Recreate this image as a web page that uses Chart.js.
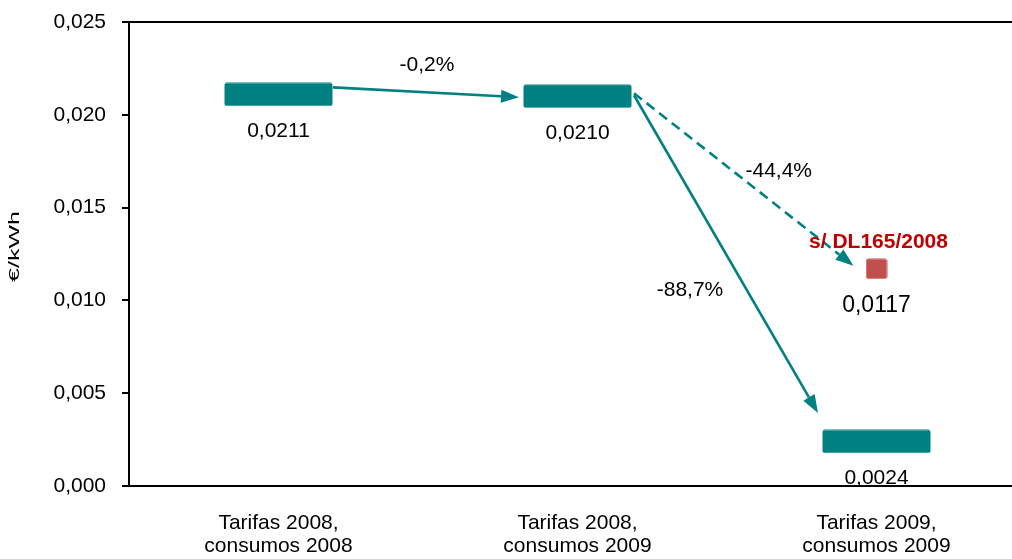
<!DOCTYPE html>
<html>
<head>
<meta charset="utf-8">
<script src="https://cdn.jsdelivr.net/npm/chart.js@4.4.1/dist/chart.umd.min.js"></script>
<style>
  html, body { margin: 0; padding: 0; overflow: hidden; background: #ffffff; }
  #wrap { position: relative; width: 1039px; height: 559px; }
  #chart { display: block; }
</style>
</head>
<body>
<div id="wrap"><canvas id="chart" width="1039" height="559"></canvas></div>
<script>
// ---- data ----
const categories = [
  ['Tarifas 2008,', 'consumos 2008'],
  ['Tarifas 2008,', 'consumos 2009'],
  ['Tarifas 2009,', 'consumos 2009']
];
const tariffValues = [0.0211, 0.0210, 0.0024];
const withoutDL165Values = [null, null, 0.0117];
const withoutDL165Label = 's/ DL165/2008';
const changeLabels = ['-0,2%', '-44,4%', '-88,7%'];
const yTicks = [0.000, 0.005, 0.010, 0.015, 0.020, 0.025];
const yTitle = '€/kWh';

// ---- styles ----
const FONT = "'Liberation Sans', Arial, Helvetica, sans-serif";
const TEAL = '#008080';
const RED_MARK = '#C0504D';
const RED_TEXT = '#C00000';

function makeMarker(w, h, color, r) {
  const c = document.createElement('canvas');
  c.width = w; c.height = h;
  const g = c.getContext('2d');
  g.fillStyle = color;
  g.beginPath();
  g.roundRect(0.5, 0.5, w - 1, h - 1, r);
  g.fill();
  return c;
}
const tariffMarker = makeMarker(109, 24, TEAL, 2);
const altMarker = makeMarker(22, 21, RED_MARK, 2);

const fmt = (v, d) => v.toFixed(d).replace('.', ',');

// connectors between markers: [datasetIndex, dataIndex], pixel offsets from marker centres
const connectors = [
  { from: [0, 0], to: [0, 1], start: [54.5, -7], end: [-58.5, 1], dash: [], text: 0, textOffset: [1, -27] },
  { from: [0, 1], to: [1, 2], start: [56.5, -3], end: [-23, -3], dash: [10, 6], text: 1, textOffset: [35, -8] },
  { from: [0, 1], to: [0, 2], start: [56.5, -1], end: [-58.5, -28.5], dash: [], text: 2, textOffset: [-36, 36] }
];

const annotations = {
  id: 'annotations',
  afterDatasetsDraw(chart) {
    const ctx = chart.ctx;
    const pt = (ref) => chart.getDatasetMeta(ref[0]).data[ref[1]];
    ctx.save();

    // arrows
    connectors.forEach(c => {
      const a = pt(c.from), b = pt(c.to);
      const x1 = a.x + c.start[0], y1 = a.y + c.start[1];
      const x2 = b.x + c.end[0], y2 = b.y + c.end[1];
      const ang = Math.atan2(y2 - y1, x2 - x1);
      const headLen = 18, headHalf = 6.5;
      const bx = x2 - headLen * Math.cos(ang), by = y2 - headLen * Math.sin(ang);
      ctx.strokeStyle = TEAL;
      ctx.fillStyle = TEAL;
      ctx.lineWidth = 2.6;
      ctx.setLineDash(c.dash);
      ctx.beginPath();
      ctx.moveTo(x1, y1);
      ctx.lineTo(bx, by);
      ctx.stroke();
      ctx.setLineDash([]);
      ctx.beginPath();
      ctx.moveTo(x2, y2);
      ctx.lineTo(bx + headHalf * Math.sin(ang), by - headHalf * Math.cos(ang));
      ctx.lineTo(bx - headHalf * Math.sin(ang), by + headHalf * Math.cos(ang));
      ctx.closePath();
      ctx.fill();

      ctx.fillStyle = '#000';
      ctx.font = '21px ' + FONT;
      ctx.textAlign = 'center';
      ctx.textBaseline = 'middle';
      ctx.fillText(changeLabels[c.text], (x1 + x2) / 2 + c.textOffset[0], (y1 + y2) / 2 + c.textOffset[1]);
    });

    // value labels under each marker
    ctx.textAlign = 'center';
    ctx.textBaseline = 'middle';
    ctx.fillStyle = '#000';
    chart.data.datasets.forEach((ds, di) => {
      const meta = chart.getDatasetMeta(di);
      ds.data.forEach((v, i) => {
        if (v === null) return;
        const p = meta.data[i];
        ctx.font = (di === 1 ? '23px ' : '21px ') + FONT;
        ctx.fillText(fmt(v, 4), p.x, p.y + 37);
      });
    });

    // series caption above the red marker
    const alt = chart.getDatasetMeta(1).data[2];
    ctx.fillStyle = RED_TEXT;
    ctx.font = 'bold 21px ' + FONT;
    ctx.fillText(withoutDL165Label, alt.x + 2, alt.y - 27);

    // y axis title (narrow lettering)
    ctx.fillStyle = '#000';
    ctx.translate(14.5, 246.5);
    ctx.rotate(-Math.PI / 2);
    ctx.scale(1, 0.6);
    ctx.font = '25px ' + FONT;
    ctx.fillText(yTitle, 0, 0);
    ctx.restore();
  }
};

new Chart(document.getElementById('chart'), {
  type: 'line',
  data: {
    labels: categories,
    datasets: [
      { label: 'Tarifas', data: tariffValues, showLine: false, pointStyle: tariffMarker, pointRadius: 12, pointHoverRadius: 12 },
      { label: withoutDL165Label, data: withoutDL165Values, showLine: false, pointStyle: altMarker, pointRadius: 11, pointHoverRadius: 11 }
    ]
  },
  options: {
    responsive: false,
    animation: false,
    devicePixelRatio: 1,
    events: [],
    layout: { padding: { top: 22, left: 0, right: 0, bottom: 0 } },
    plugins: { legend: { display: false }, tooltip: { enabled: false } },
    scales: {
      x: {
        type: 'category',
        position: 'bottom',
        offset: true,
        grid: { display: false, drawTicks: false },
        border: { display: true, color: '#000', width: 2 },
        ticks: { color: '#000', font: { family: FONT, size: 21, lineHeight: 1.12 }, padding: 25, maxRotation: 0, autoSkip: false },
        afterFit: s => { s.height = 73; s.paddingLeft = 0; s.paddingRight = 0; }
      },
      xTop: {
        type: 'category',
        position: 'top',
        offset: true,
        grid: { display: false, drawTicks: false },
        border: { display: true, color: '#000', width: 2 },
        ticks: { display: false },
        afterFit: s => { s.height = 0; s.paddingLeft = 0; s.paddingRight = 0; }
      },
      y: {
        min: yTicks[0],
        max: yTicks[yTicks.length - 1],
        grid: { drawOnChartArea: false, drawTicks: true, tickLength: 7, color: '#000', lineWidth: 2 },
        border: { display: true, color: '#000', width: 2 },
        ticks: {
          stepSize: yTicks[1] - yTicks[0],
          color: '#000',
          font: { family: FONT, size: 21 },
          padding: 16,
          callback: v => fmt(v, 3)
        },
        afterFit: s => { s.width = 129; s.paddingTop = 0; s.paddingBottom = 0; }
      }
    }
  },
  plugins: [annotations]
});
</script>
</body>
</html>
